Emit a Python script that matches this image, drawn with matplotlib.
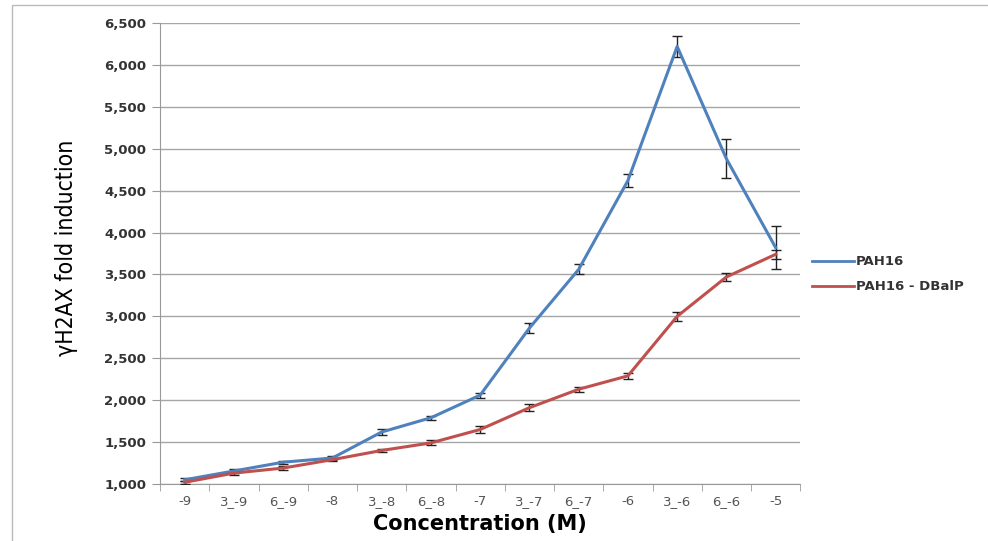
import numpy as np
import matplotlib.pyplot as plt
from matplotlib.patches import Rectangle
from matplotlib.lines import Line2D

categories = ['-9', '3_-9', '6_-9', '-8', '3_-8', '6_-8', '-7',
              '3_-7', '6_-7', '-6', '3_-6', '6_-6', '-5']
pah16 = [1050, 1155, 1260, 1310, 1620, 1790, 2060,
         2860, 3560, 4620, 6220, 4880, 3820]
pah16_err = [20, 20, 20, 20, 30, 25, 30, 60, 60, 80, 120, 230, 260]
dbaip = [1020, 1130, 1190, 1290, 1400, 1490, 1650,
         1910, 2130, 2290, 3000, 3470, 3740]
dbaip_err = [15, 20, 20, 20, 20, 30, 40, 40, 30, 40, 50, 50, 50]
yticks = list(range(1000, 7000, 500))

fig = plt.figure(figsize=(9.88, 5.41), dpi=100)
ax = fig.add_axes([0.162, 0.1054, 0.648, 0.8521])

x = np.arange(len(categories))
ax.errorbar(x, pah16, yerr=pah16_err, color='#4F81BD', lw=2.2,
            ecolor='#222222', elinewidth=1, capsize=3.5, capthick=1, zorder=3)
ax.errorbar(x, dbaip, yerr=dbaip_err, color='#C0504D', lw=2.2,
            ecolor='#222222', elinewidth=1, capsize=3.5, capthick=1, zorder=3)

ax.set_xlim(-0.45, len(categories) - 0.55)
ax.set_ylim(1000, 6500)
ax.set_yticks(yticks)
ax.set_yticklabels([f'{v:,}' for v in yticks], fontsize=9.5,
                   fontweight='bold', color='#333333')
ax.set_xticks(x)
ax.set_xticklabels(categories, fontsize=9.5, color='#555555')
ax.set_xticks(np.arange(len(categories) + 1) - 0.5, minor=True)
ax.tick_params(axis='x', which='major', length=0, pad=8)
ax.tick_params(axis='x', which='minor', length=5, color='#999999')
ax.tick_params(axis='y', length=6, color='#999999', pad=4)
ax.grid(axis='y', color='#a6a6a6', lw=1)
ax.set_axisbelow(True)
for side in ['top', 'right']:
    ax.spines[side].set_visible(False)
for side in ['left', 'bottom']:
    ax.spines[side].set_color('#999999')

ax.set_xlabel('Concentration (M)', fontsize=15, fontweight='bold',
              labelpad=4)
ax.set_ylabel('γH2AX fold induction', fontsize=16.5, fontstretch='condensed')
ax.yaxis.set_label_coords(-0.128, 0.512)

handles = [Line2D([], [], color='#4F81BD', lw=2),
           Line2D([], [], color='#C0504D', lw=2)]
leg = ax.legend(handles, ['PAH16', 'PAH16 - DBalP'], loc='center left',
                bbox_to_anchor=(1.0, 0.455), frameon=False,
                handlelength=3.2, handletextpad=0.1, labelspacing=0.9,
                prop={'size': 9.5, 'weight': 'bold'})
for t in leg.get_texts():
    t.set_color('#333333')

fig.patches.append(Rectangle((0.012, -0.01), 0.99, 1.0, transform=fig.transFigure,
                             fill=False, edgecolor='#bbbbbb', lw=1))

fig.savefig('out.png', dpi=100)
